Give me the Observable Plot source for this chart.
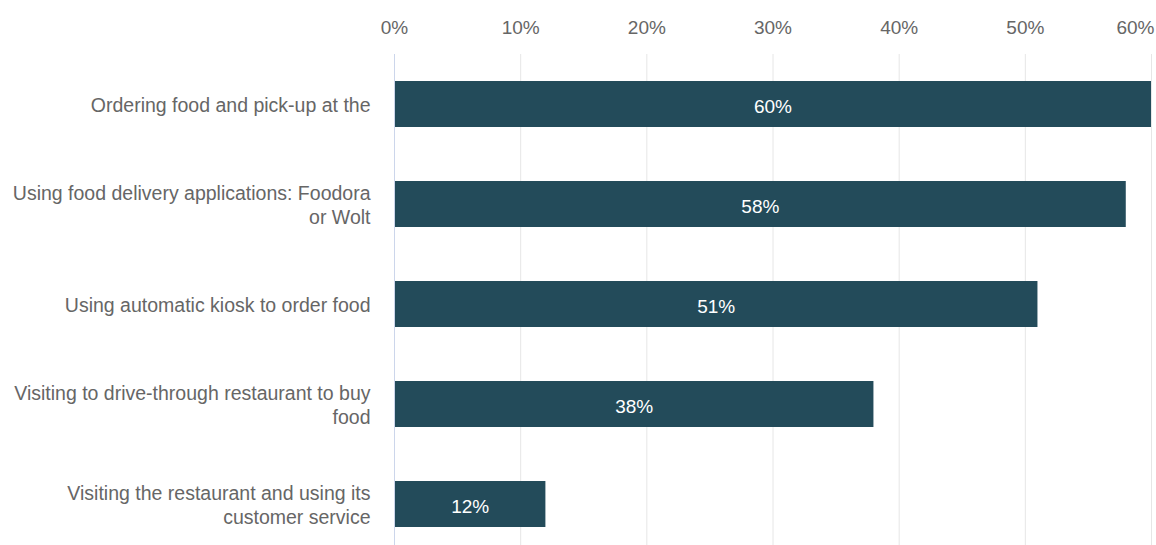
<!DOCTYPE html>
<html>
<head>
<meta charset="utf-8">
<script src="https://cdn.jsdelivr.net/npm/d3@7"></script>
<script src="https://cdn.jsdelivr.net/npm/@observablehq/plot@0.6"></script>
<style>
  html, body { margin: 0; padding: 0; background: #fff; }
  #chart svg { display: block; }
</style>
</head>
<body>
<div id="chart"></div>
<script>
const categories = [
  "Ordering food and pick-up at the",
  "Using food delivery applications: Foodora\nor Wolt",
  "Using automatic kiosk to order food",
  "Visiting to drive-through restaurant to buy\nfood",
  "Visiting the restaurant and using its\ncustomer service"
];
const values = [60, 58, 51, 38, 12];
const xTicks = [0, 10, 20, 30, 40, 50, 60];

const data = categories.map((c, i) => ({category: c, value: values[i]}));
const font = "Liberation Sans, Arial, sans-serif";
const fs = 19;
const fsY = 19.5;

const chart = Plot.plot({
  width: 1156,
  height: 545,
  marginLeft: 394,
  marginRight: 5,
  marginTop: 54,
  marginBottom: -9,
  style: {fontFamily: font, fontSize: fs + "px", color: "#666666", background: "#fff"},
  x: {domain: [0, 60]},
  y: {domain: categories, paddingInner: 0.54, paddingOuter: 0.27},
  marks: [
    Plot.gridX(xTicks, {stroke: "#e6e6e6", strokeOpacity: 1}),
    Plot.axisX({anchor: "top", ticks: xTicks.slice(0, -1), tickFormat: d => d + "%", tickSize: 0, tickPadding: 21, fontSize: fs, fill: "#666666", label: null}),
    Plot.axisX({anchor: "top", ticks: xTicks.slice(-1), tickFormat: d => d + "%", tickSize: 0, tickPadding: 21, fontSize: fs, fill: "#666666", label: null, textAnchor: "end", dx: 3}),
    Plot.axisY({tickSize: 0, tickPadding: 24, fontSize: fsY, fill: "#666666", label: null, lineHeight: 1.2}),
    Plot.barX(data, {x: "value", y: "category", fill: "#234b5a"}),
    Plot.ruleX([0], {stroke: "#ccd6eb"}),
    Plot.text(data, {x: d => d.value / 2, y: "category", text: d => d.value + "%", fill: "white", fontSize: fs, dy: 2})
  ]
});
document.getElementById("chart").appendChild(chart);
</script>
</body>
</html>
